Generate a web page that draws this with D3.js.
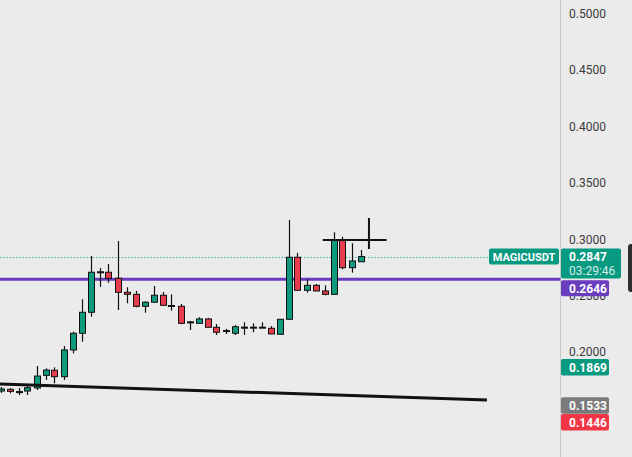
<!DOCTYPE html>
<html><head><meta charset="utf-8">
<script src="https://cdn.jsdelivr.net/npm/d3@7"></script>
<style>html,body{margin:0;padding:0;background:#ebebeb;overflow:hidden}</style>
</head><body>
<svg id="c" width="632" height="457"></svg>
<script>
// candle OHLC data (MAGICUSDT)
const opens  = [.1655,.1670,.1650,.1655,.1682,.1794,.1839,.1782,.2019,.2167,.2353,.2710,.2708,.2654,.2530,.2512,.2406,.2442,.2504,.2413,.2406,.2268,.2255,.2294,.2220,.2191,.2167,.2221,.2221,.2221,.2211,.2158,.2291,.2841,.2548,.2592,.2542,.2512,.2994,.2748,.2801];
const highs  = [.1691,.1680,.1682,.1700,.1877,.1856,.1865,.2054,.2181,.2468,.2852,.2746,.2781,.2985,.2575,.2542,.2450,.2586,.2533,.2512,.2427,.2276,.2309,.2303,.2249,.2207,.2240,.2264,.2255,.2264,.2231,.2293,.3171,.2881,.2645,.2604,.2592,.3062,.3023,.2965,.2905];
const lows   = [.1638,.1635,.1620,.1620,.1664,.1753,.1723,.1753,.1989,.2092,.2314,.2577,.2615,.2373,.2433,.2397,.2349,.2440,.2413,.2367,.2247,.2196,.2253,.2218,.2152,.2160,.2152,.2152,.2176,.2218,.2159,.2156,.2289,.2546,.2527,.2540,.2503,.2510,.2734,.2704,.2800];
const closes = [.1673,.1652,.1648,.1684,.1788,.1841,.1782,.2019,.2167,.2353,.2708,.2712,.2654,.2530,.2512,.2406,.2442,.2504,.2415,.2410,.2255,.2266,.2294,.2220,.2176,.2189,.2225,.2219,.2220,.2220,.2161,.2291,.2841,.2548,.2592,.2542,.2512,.2994,.2748,.2808,.2847];
const yTicks = [0.5,0.45,0.4,0.35,0.3,0.25,0.2];
const levelPrice = 0.2646;
const lastPrice = 0.2847;
const countdown = "03:29:46";
const symbol = "MAGICUSDT";
const trendLine = [{i:-0.06, v:0.1717},{i:54.05, v:0.1576}];
const drawnH = [{i:35.8, v:0.2994},{i:42.9, v:0.2994}];
const drawnV = [{i:40.94, v:0.3189},{i:40.94, v:0.2914}];
const sideLabels = [
  {v:0.1869, text:"0.1869", color:"#089981"},
  {v:0.1533, text:"0.1533", color:"#7b7b7b"},
  {v:0.1446, text:"0.1446", color:"#f23645"}
];

const W=632,H=457, axisX=560.5;
const svg=d3.select("#c");
const x=d3.scaleLinear().domain([0,40]).range([0.5,360.5]);
const y=d3.scaleLinear().domain([0.5,0.1]).range([13.7,464.9]);
const font="Roboto, 'Noto Sans', Arial, sans-serif";

svg.append("rect").attr("width",W).attr("height",H).attr("fill","#ebebeb");
svg.append("line").attr("x1",axisX).attr("x2",axisX).attr("y1",0).attr("y2",H).attr("stroke","#c9c9c9");

// tick labels
svg.append("g").selectAll("text").data(yTicks).join("text")
  .attr("x",569).attr("y",d=>y(d)+4.3).text(d=>d.toFixed(4))
  .attr("font-family",font).attr("font-size",12).attr("fill","#3a3a3a");

const data=opens.map((o,i)=>({i,o,h:highs[i],l:lows[i],c:closes[i]}));
const line=d3.line().x(d=>x(d.i)).y(d=>y(d.v));

// level line
svg.append("line").attr("x1",0).attr("x2",axisX).attr("y1",y(levelPrice)).attr("y2",y(levelPrice))
  .attr("stroke","#6a3dbf").attr("stroke-width",3);
// last price dotted line
svg.append("line").attr("x1",0).attr("x2",489).attr("y1",Math.round(y(lastPrice))+0.5).attr("y2",Math.round(y(lastPrice))+0.5)
  .attr("stroke","#1aa58a").attr("stroke-width",1).attr("stroke-dasharray","1.2,2");

// candles
const g=svg.append("g");
g.selectAll("line.w").data(data).join("line").attr("class","w")
  .attr("x1",d=>Math.round(x(d.i))+0.5).attr("x2",d=>Math.round(x(d.i))+0.5)
  .attr("y1",d=>y(d.h)).attr("y2",d=>y(d.l)).attr("stroke","#111").attr("stroke-width",1.2);
g.selectAll("rect").data(data).join("rect")
  .attr("x",d=>Math.round(x(d.i))-2.5).attr("width",6)
  .attr("y",d=>y(Math.max(d.o,d.c))).attr("height",d=>Math.max(1,Math.abs(y(d.o)-y(d.c))))
  .attr("fill",d=>d.c>=d.o?"#0e9a7d":"#e83d4d").attr("stroke","#111").attr("stroke-width",1);

// trend line and drawings
svg.append("path").datum(trendLine).attr("d",line).attr("stroke","#111").attr("stroke-width",3).attr("fill","none");
svg.append("path").datum(drawnH).attr("d",line).attr("stroke","#111").attr("stroke-width",2).attr("fill","none");
svg.append("path").datum(drawnV).attr("d",line).attr("stroke","#111").attr("stroke-width",2).attr("fill","none");

// symbol label
const yl=y(lastPrice);
svg.append("rect").attr("x",489).attr("y",yl-8).attr("width",70).attr("height",16).attr("rx",2).attr("fill","#089981");
svg.append("text").attr("x",524).attr("y",yl+4).attr("text-anchor","middle").text(symbol)
  .attr("font-family",font).attr("font-size",11).attr("font-weight","bold").attr("fill","#fff");
// last price label
svg.append("rect").attr("x",561).attr("y",yl-8).attr("width",60).attr("height",30).attr("rx",2).attr("fill","#089981");
svg.append("text").attr("x",569).attr("y",yl+4.5).text(lastPrice.toFixed(4))
  .attr("font-family",font).attr("font-size",12).attr("font-weight","bold").attr("fill","#fff");
svg.append("text").attr("x",569).attr("y",yl+18).text(countdown)
  .attr("font-family",font).attr("font-size",12).attr("fill","#fff").attr("fill-opacity",0.85);
// level label
const yv=y(levelPrice);
svg.append("rect").attr("x",561).attr("y",yv+1).attr("width",48).attr("height",16).attr("rx",2).attr("fill","#6a3dbf");
svg.append("text").attr("x",569).attr("y",yv+13.3).text(levelPrice.toFixed(4))
  .attr("font-family",font).attr("font-size",12).attr("font-weight","bold").attr("fill","#fff");
// side labels
const sideY=[359,397.3,414];
sideLabels.forEach((d,k)=>{
  svg.append("rect").attr("x",561).attr("y",sideY[k]).attr("width",48).attr("height",16.5).attr("rx",2).attr("fill",d.color);
  svg.append("text").attr("x",569).attr("y",sideY[k]+12.6).text(d.text)
    .attr("font-family",font).attr("font-size",12).attr("font-weight","bold").attr("fill","#fff");
});
// right edge handle
svg.append("rect").attr("x",628).attr("y",244).attr("width",8).attr("height",48).attr("rx",3).attr("fill","#2f2f2f");
</script>
</body></html>
